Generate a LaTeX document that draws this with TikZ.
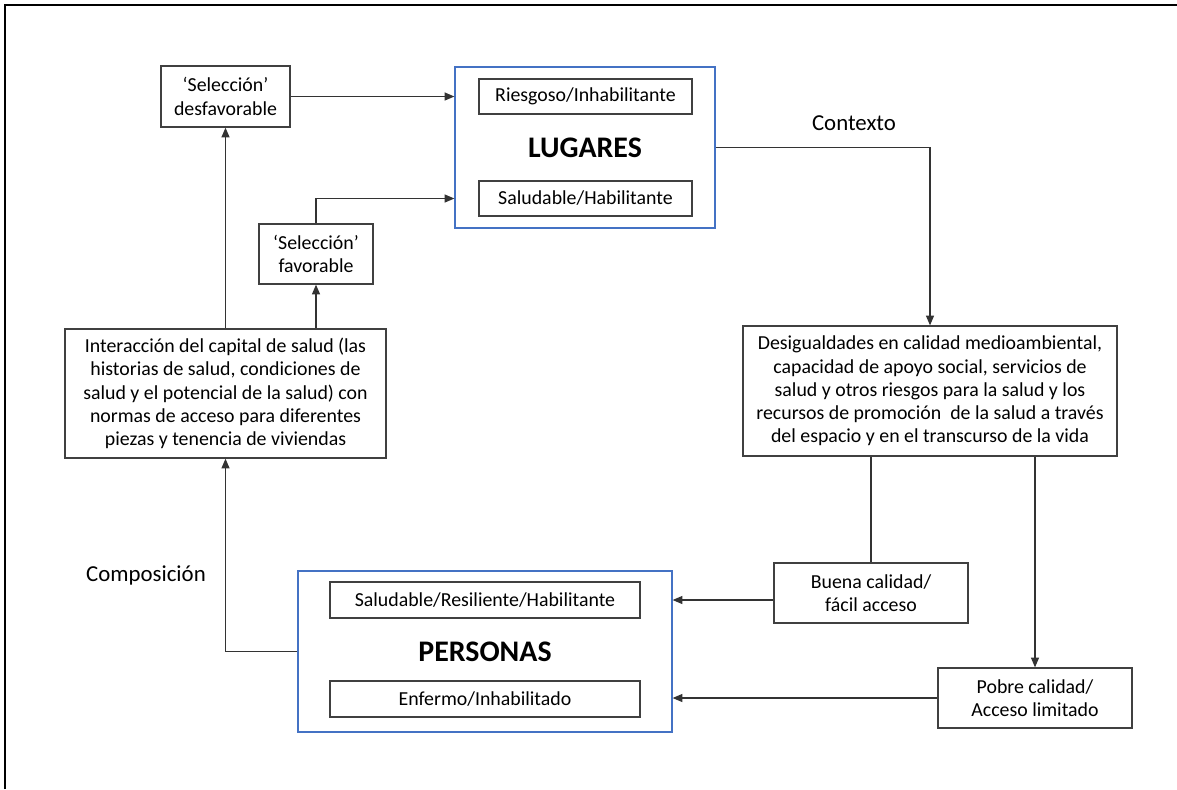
\documentclass[tikz,border=0pt]{standalone}
\usepackage{fontspec}
\setmainfont{Carlito}
\usetikzlibrary{arrows.meta}
\definecolor{azul}{RGB}{68,114,196}

\begin{document}
\begin{tikzpicture}[
  x=0.02cm,
  y=-0.02cm,
  >={Triangle[length=5.5pt,width=4.5pt]}
]

% estilos
\def\px{0.02cm}
\tikzset{
  caja/.style={rectangle, draw=black!75, line width=0.7pt, fill=white, align=center, inner sep=2pt, font=\fontsize{11.3}{13.2}\selectfont},
  grande/.style={rectangle, draw=azul, line width=0.7pt, inner sep=0pt},
  titulo/.style={font=\fontsize{17}{19}\selectfont\bfseries},
  etiqueta/.style={font=\fontsize{13}{15}\selectfont},
  linea/.style={line width=0.7pt, draw=black!80},
  flecha/.style={linea, ->}
}

\useasboundingbox (0,0) rectangle (1177,789);

% ===== marco =====
\draw[line width=0.8pt] (5,789) -- (5,5) -- (1177,5);

% ===== LUGARES =====
\node[grande, minimum width=260*\px, minimum height=161*\px] (lugares) at (585,147.5) {};
\node[titulo] (lugtxt) at (585,148) {LUGARES};
\node[caja, minimum width=213*\px, minimum height=35*\px] (riesgo) at (585.5,96.5) {Riesgoso/Inhabilitante};
\node[caja, minimum width=213*\px, minimum height=35*\px] (saludh) at (585.5,198.5) {Saludable/Habilitante};

% ===== PERSONAS =====
\node[grande, minimum width=374*\px, minimum height=161*\px] (personas) at (485,651.5) {};
\node[titulo] (pertxt) at (485,652) {PERSONAS};
\node[caja, minimum width=310*\px, minimum height=36*\px] (saludr) at (485,600) {Saludable/Resiliente/Habilitante};
\node[caja, minimum width=310*\px, minimum height=36*\px] (enfermo) at (485,699) {Enfermo/Inhabilitado};

% ===== seleccion =====
\node[caja, minimum width=129*\px, minimum height=61*\px] (desfav) at (225.5,96.5) {‘Selección’\\desfavorable};
\node[caja, minimum width=114*\px, minimum height=60*\px] (fav) at (316,254) {‘Selección’\\favorable};
\node[caja, minimum width=321*\px, minimum height=129*\px] (inter) at (225.5,393.5)
  {Interacción del capital de salud (las\\historias de salud, condiciones de\\salud y el potencial de la salud) con\\normas de acceso para diferentes\\piezas y tenencia de viviendas};

% ===== contexto =====
\node[caja, minimum width=374*\px, minimum height=130*\px] (desig) at (930,391)
  {Desigualdades en calidad medioambiental,\\capacidad de apoyo social, servicios de\\salud y otros riesgos para la salud y los\\recursos de promoción~ de la salud a través\\del espacio y en el transcurso de la vida};
\node[caja, minimum width=194*\px, minimum height=60*\px] (buena) at (871,593) {Buena calidad/\\fácil acceso};
\node[caja, minimum width=194*\px, minimum height=60*\px] (pobre) at (1035,698) {Pobre calidad/\\Acceso limitado};

% etiquetas
\node[etiqueta] (contexto) at (854,123) {Contexto};
\node[etiqueta] (composicion) at (146,575) {Composición};

% ===== conexiones =====
\draw[flecha] (desfav.east) -- (desfav.east -| lugares.west);
\draw[flecha] (fav.north) |- (saludh -| lugares.west);
\draw[flecha] (inter.north -| fav) -- (fav.south);
\draw[flecha] (inter.north -| desfav) -- (desfav.south);
\draw[flecha] (lugares.east) -| (desig.north);
\draw[linea] (desig.south -| buena.north) -- (buena.north);
\draw[flecha] (desig.south -| pobre.north) -- (pobre.north);
\draw[flecha] (buena.west |- saludr) -- (saludr -| personas.east);
\draw[flecha] (pobre.west) -- (pobre.west -| personas.east);
\draw[flecha] (personas.west) -| (inter.south);

\end{tikzpicture}
\end{document}
